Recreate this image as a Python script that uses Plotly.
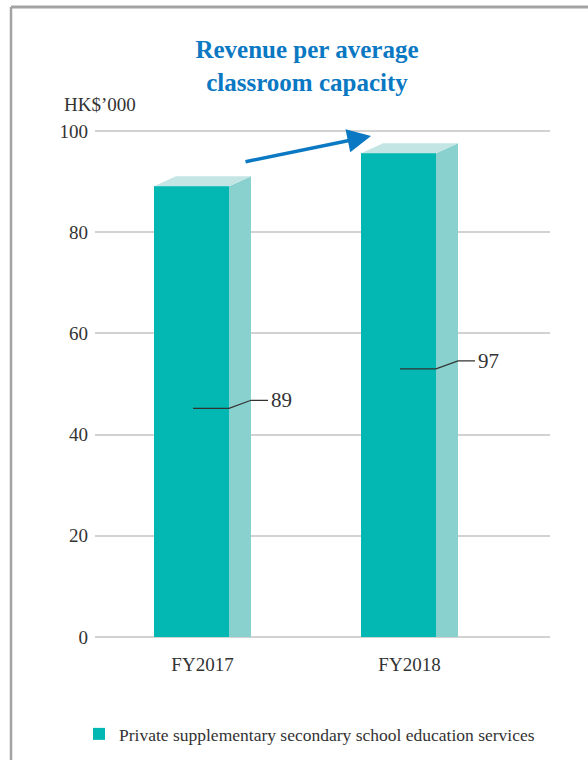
import plotly.graph_objects as go

# ---- data ----
categories = ["FY2017", "FY2018"]
bar_values = [89.1, 95.6]          # bar heights as drawn
value_labels = ["89", "97"]        # printed labels
series_name = "Private supplementary secondary school education services"
y_ticks = [0, 20, 40, 60, 80, 100]
leader_y = [45.2, 53.0]            # y where leader line leaves bar

# ---- geometry / style ----
FONT = "Liberation Serif"
FRONT = "#03b8b3"
SIDE = "#89d1cf"
TOP = "#c3e6e5"
TXT = "#333333"
BLUE = "#0a78c2"

W, H = 588, 760
Y0_PX, Y100_PX = 637, 131
YU = (Y0_PX - Y100_PX) / 100.0     # px per y unit
PAD = 0.4                           # range padding so edge gridlines show
ML, MR = 95, 38
MT = Y100_PX - PAD * YU
MB = H - (Y0_PX + PAD * YU)
PW = W - ML - MR
PH = H - MT - MB
XU = 207.0                 # px per category
x0 = -(202.5 - ML) / XU
x1 = x0 + PW / XU

def py(px):   # pixel row -> paper y
    return (H - MB - px) / PH

def dy_val(px):  # pixel row -> data y
    return (Y0_PX - px) / YU

bw = 75 / XU
boff = -48.5 / XU
dx = 22 / XU
dy = 10 / YU

xs = list(range(len(categories)))

fig = go.Figure()
fig.add_trace(go.Bar(
    x=xs, y=bar_values, width=bw, offset=boff,
    marker=dict(color=FRONT, line=dict(width=0)),
    name=series_name, showlegend=True, hoverinfo="skip",
))

shapes = []
annotations = []
for i, (xc, v) in enumerate(zip(xs, bar_values)):
    fl = xc + boff
    fr = fl + bw
    shapes.append(dict(type="path", xref="x", yref="y", layer="above",
                       path=f"M{fr},0 L{fr},{v} L{fr+dx},{v+dy} L{fr+dx},0 Z",
                       fillcolor=SIDE, line=dict(width=0)))
    shapes.append(dict(type="path", xref="x", yref="y", layer="above",
                       path=f"M{fl},{v} L{fr},{v} L{fr+dx},{v+dy} L{fl+dx},{v+dy} Z",
                       fillcolor=TOP, line=dict(width=0)))
    # leader line
    ly = leader_y[i]
    start = fl + bw / 2 + 1.5 / XU
    rise = 8 / YU
    ext = 17 / XU
    shapes.append(dict(type="path", xref="x", yref="y", layer="above",
                       path=f"M{start},{ly} L{fr},{ly} L{fr+dx},{ly+rise} L{fr+dx+ext},{ly+rise}",
                       line=dict(color=TXT, width=1.2)))
    annotations.append(dict(x=fr + dx + ext + 1 / XU, y=ly + rise, xref="x", yref="y",
                            text=value_labels[i], showarrow=False, xanchor="left",
                            yanchor="middle",
                            font=dict(family=FONT, size=21, color=TXT)))

# growth arrow
tip_x = x0 + (371 - ML) / XU
tip_y = dy_val(136)
annotations.append(dict(x=tip_x, y=tip_y, xref="x", yref="y", ax=-127, ay=26,
                        text="", showarrow=True, arrowhead=2, arrowsize=1.35,
                        arrowwidth=3.5, arrowcolor=BLUE))

# unit label
annotations.append(dict(x=(62 - ML) / PW, y=py(104), xref="paper", yref="paper",
                        text="HK$’000", showarrow=False, xanchor="left", yanchor="middle",
                        font=dict(family=FONT, size=19, color=TXT)))

# frame (left and top border)
bl = (11 - ML) / PW
bt = py(7)
shapes.append(dict(type="line", xref="paper", yref="paper", x0=bl, x1=bl, y0=bt,
                   y1=py(H + 10), line=dict(color="#a3a3a3", width=2.5)))
shapes.append(dict(type="line", xref="paper", yref="paper", x0=bl, x1=(W + 10 - ML) / PW,
                   y0=bt, y1=bt, line=dict(color="#a3a3a3", width=3)))

fig.update_layout(
    width=W, height=H,
    margin=dict(l=ML, r=MR, t=MT, b=MB),
    paper_bgcolor="white", plot_bgcolor="white",
    title=dict(text="<b>Revenue per average<br>classroom capacity</b>",
               x=307 / W, xanchor="center", xref="container",
               y=1 - 58 / H, yanchor="middle", yref="container",
               font=dict(family=FONT, size=25, color=BLUE)),
    xaxis=dict(range=[x0, x1], tickvals=xs, ticktext=categories, showgrid=False,
               zeroline=False, showline=False, ticks="", fixedrange=True,
               ticklabelstandoff=12,
               tickfont=dict(family=FONT, size=19, color=TXT)),
    yaxis=dict(range=[-PAD, 100 + PAD], tickvals=y_ticks, showgrid=True, gridcolor="#d2d2d2",
               gridwidth=1.5, zeroline=False, showline=False, ticks="",
               ticklabelstandoff=6, fixedrange=True,
               tickfont=dict(family=FONT, size=19, color=TXT)),
    showlegend=True,
    legend=dict(orientation="h", x=79 / W, xref="container", xanchor="left",
                y=1 - 734 / H, yref="container", yanchor="middle",
                font=dict(family=FONT, size=17.5, color=TXT), bgcolor="rgba(0,0,0,0)"),
    shapes=shapes, annotations=annotations,
    bargap=0,
)

fig.write_html("out.html")
